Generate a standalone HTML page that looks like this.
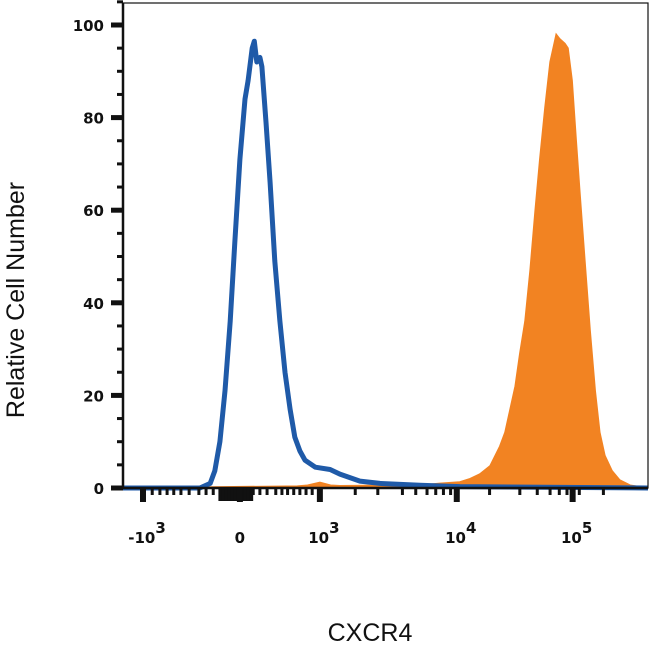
<!DOCTYPE html>
<html><head><meta charset="utf-8"><style>
html,body{margin:0;padding:0;background:#fff;}
svg{display:block;font-family:"Liberation Sans",sans-serif;}
.tl{font-family:"DejaVu Sans","Liberation Sans",sans-serif;font-weight:bold;}
</style></head><body>
<svg id="chart" width="650" height="650" viewBox="0 0 650 650">
<g id="plot"></g>
<g id="axes"></g>
<text x="24" y="300" font-size="25" text-anchor="middle" transform="rotate(-90 24 300)" fill="#111">Relative Cell Number</text>
<text x="370" y="641" font-size="25" text-anchor="middle" fill="#111">CXCR4</text>
</svg>
<script>
// x in instrument channels (0..1024, logicle display), y in % of max
const isotypeX = [0,150,170,179,189,199,209,218,228,238,244,252,256,261,267,271,279,287,296,306,316,326,335,345,355,375,404,423,462,501,579,657,1024];
const isotypeY = [0,0,1,3.7,10,21,36,53,71,84,88,95,96.5,92,93,91,79,66,49,36,25,17,11,8,6,4.5,4,3,1.5,1,0.6,0.3,0];
const cxcr4X = [0,340,360,384,405,423,579,618,657,677,696,716,726,735,745,755,765,774,784,794,804,813,823,833,845,852,862,868,876,884,891,901,911,921,930,940,954,969,989,1024];
const cxcr4Y = [0,0.4,0.6,1.2,0.6,0.5,0.6,1,1.3,2,3,4.8,7,9,12,17,22,29,36,47,60,71,82,92,98,97,96,95,88,75,64,49,34,21,12,7,3.7,1.7,0.6,0];
const yTicks = [0,20,40,60,80,100];
const yMinor = [5,10,15,25,30,35,45,50,55,65,70,75,85,90,95,105];
const xTickCh = [39,228,384,651,877];
const xTickBase = ["-10","0","10","10","10"];
const xTickExp = ["3","","3","4","5"];
const xMinorCh = [57,72,86,99,113,129,148,162,176,202,240,254,267,281,298,310,321,333,345,357,369,453,497,545,571,593,610,625,639,715,774,808,833,851,866,879,890,937];
const xClusterCh = [190,196,202,208,214,220,226,232,238,244,250];

const X0=123,X1=648,Y0=488,Y1=25;
const xs = c => X0 + c*(X1-X0)/1024;
const ys = v => Y0 - v*(Y0-Y1)/100;
const NS="http://www.w3.org/2000/svg";
function mk(tag, attrs, parent){const e=document.createElementNS(NS,tag);for(const k in attrs)e.setAttribute(k,attrs[k]);parent.appendChild(e);return e;}
const plot=document.getElementById('plot'), axes=document.getElementById('axes');

let d='M'+xs(cxcr4X[0])+','+ys(0);
cxcr4X.forEach((x,i)=>{d+=' L'+xs(x).toFixed(1)+','+ys(cxcr4Y[i]).toFixed(1);});
d+=' Z';
const area=mk('path',{d:d,fill:'#f28322',stroke:'#f28322','stroke-width':1.5},plot);



let d2='';
isotypeX.forEach((x,i)=>{d2+=(i?' L':'M')+xs(x).toFixed(1)+','+ys(isotypeY[i]).toFixed(1);});
const line=mk('path',{d:d2,fill:'none',stroke:'#1f5aa8','stroke-width':5,'stroke-linejoin':'round'},plot);



const fr=mk('rect',{x:X0,y:3,width:X1-X0,height:Y0-3,fill:'none',stroke:'#111','stroke-width':1.2},axes);


const ya=mk('line',{x1:X0,y1:3,x2:X0,y2:Y0,stroke:'#111','stroke-width':2.5},axes);


const xa=mk('line',{x1:X0,y1:Y0,x2:X1,y2:Y0,stroke:'#111','stroke-width':2.5},axes);



yTicks.forEach(v=>{
  const t=mk('rect',{x:X0-12,y:ys(v)-2.5,width:12,height:5,fill:'#111'},axes);
  
  
  const l=mk('text',{x:X0-19,y:ys(v)+6,'font-size':15,'text-anchor':'end',fill:'#111',class:'tl'},axes);
  l.textContent=v;
  
  
});
yMinor.forEach(v=>{
  const t=mk('rect',{x:X0-6,y:ys(v)-1.5,width:6,height:3,fill:'#111'},axes);
  
  
});
xMinorCh.forEach(c=>{
  const t=mk('rect',{x:xs(c)-1.5,y:Y0,width:3,height:7,fill:'#111'},axes);
  
  
});
xClusterCh.forEach(c=>{
  const t=mk('rect',{x:xs(c)-2,y:Y0,width:4,height:13,fill:'#111'},axes);
  
  
});
xTickCh.forEach((c,i)=>{
  const t=mk('rect',{x:xs(c)-3,y:Y0,width:6,height:14,fill:'#111'},axes);
  
  
  const l=mk('text',{x:xs(c)+(xTickExp[i]?4:0),y:543,'font-size':15,'text-anchor':'middle',fill:'#111',class:'tl'},axes);
  l.textContent=xTickBase[i];
  if(xTickExp[i]){const s=mk('tspan',{dy:-10,'font-size':15},l);s.textContent=xTickExp[i];}
  
  
});
</script>
</body></html>
